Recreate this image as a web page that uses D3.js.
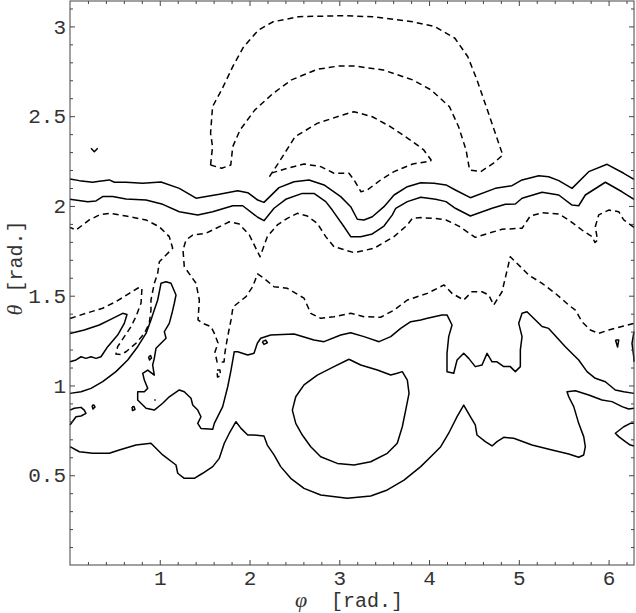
<!DOCTYPE html>
<html><head><meta charset="utf-8">
<script src="https://cdnjs.cloudflare.com/ajax/libs/d3/7.8.5/d3.min.js"></script>
<style>body{margin:0;background:#fff}svg{display:block}</style>
</head><body><svg id="c" width="636" height="613"></svg>
<script>
// ---- data: contour lines as [phi, theta] pairs (radians) ----
const xTickValues = [1, 2, 3, 4, 5, 6];
const yTickValues = [0.5, 1, 1.5, 2, 2.5, 3];

const solidTop = [[0,2.150],[0.104,2.141],[0.253,2.132],[0.326,2.137],[0.438,2.145],[0.494,2.132],[0.624,2.132],[0.810,2.126],[1.014,2.133],[1.218,2.098],[1.404,2.043],[1.663,2.065],[1.868,2.085],[1.980,2.074],[2.091,2.033],[2.161,2.020],[2.328,2.102],[2.496,2.135],[2.663,2.145],[2.830,2.117],[3.016,2.052],[3.127,1.996],[3.201,1.926],[3.275,1.922],[3.368,1.940],[3.498,1.996],[3.610,2.061],[3.758,2.107],[3.907,2.129],[4.055,2.126],[4.189,2.117],[4.293,2.089],[4.460,2.046],[4.738,2.098],[4.924,2.113],[5.036,2.145],[5.222,2.168],[5.333,2.163],[5.445,2.141],[5.593,2.098],[5.779,2.191],[5.983,2.232],[6.169,2.182],[6.283,2.148]];

const solidSecond = [[0,2.037],[0.197,2.024],[0.290,2.028],[0.364,2.052],[0.476,2.052],[0.624,2.039],[0.847,2.033],[1.033,2.009],[1.218,1.968],[1.423,1.950],[1.590,1.968],[1.813,2.001],[1.924,2.001],[2.091,1.937],[2.161,1.918],[2.273,1.987],[2.403,2.037],[2.588,2.070],[2.718,2.070],[2.849,2.024],[2.922,1.977],[3.053,1.884],[3.127,1.829],[3.239,1.829],[3.368,1.844],[3.498,1.888],[3.591,1.950],[3.629,1.987],[3.758,2.024],[3.907,2.048],[4.074,2.037],[4.189,2.024],[4.293,1.987],[4.460,1.944],[4.702,1.987],[4.850,2.009],[4.961,2.011],[5.036,2.043],[5.259,2.076],[5.445,2.061],[5.593,2.005],[5.667,2.001],[5.741,2.061],[5.964,2.132],[6.150,2.079],[6.283,2.037]];

const solidLeftTongue = [[0,1.290],[0.159,1.309],[0.326,1.337],[0.476,1.374],[0.587,1.402],[0.635,1.395],[0.605,1.346],[0.531,1.281],[0.420,1.216],[0.345,1.160],[0.290,1.151],[0.234,1.160],[0.178,1.151],[0.123,1.160],[0.067,1.142],[0,1.132]];

const solidRightEdgeArc = [[6.283,1.300],[6.261,1.235],[6.280,1.160],[6.283,1.132]];

const solidMiddle = [[0,0.956],[0.123,0.965],[0.234,0.984],[0.364,1.021],[0.512,1.077],[0.643,1.142],[0.754,1.216],[0.847,1.290],[0.902,1.365],[0.939,1.420],[0.977,1.476],[1.014,1.569],[1.070,1.578],[1.125,1.569],[1.181,1.504],[1.162,1.458],[1.136,1.402],[1.106,1.346],[1.051,1.300],[1.070,1.263],[1.014,1.235],[0.958,1.207],[0.939,1.151],[0.921,1.114],[0.939,1.058],[0.866,1.086],[0.810,1.068],[0.828,1.030],[0.866,0.984],[0.828,0.965],[0.754,0.965],[0.754,0.919],[0.847,0.873],[0.939,0.863],[1.033,0.901],[1.106,0.937],[1.218,0.975],[1.273,0.965],[1.348,0.929],[1.367,0.891],[1.423,0.863],[1.459,0.826],[1.423,0.789],[1.459,0.761],[1.590,0.756],[1.608,0.789],[1.701,0.882],[1.757,0.993],[1.794,1.086],[1.830,1.188],[1.868,1.188],[1.980,1.170],[2.050,1.179],[2.087,1.235],[2.125,1.263],[2.236,1.281],[2.496,1.287],[2.718,1.253],[2.830,1.244],[3.016,1.281],[3.127,1.294],[3.275,1.272],[3.443,1.244],[3.573,1.272],[3.684,1.318],[3.796,1.355],[3.907,1.365],[3.981,1.374],[4.144,1.393],[4.200,1.393],[4.256,1.337],[4.219,1.272],[4.200,1.179],[4.200,1.077],[4.275,1.068],[4.312,1.142],[4.386,1.179],[4.442,1.151],[4.515,1.105],[4.590,1.114],[4.646,1.179],[4.702,1.132],[4.757,1.132],[4.832,1.105],[4.905,1.105],[4.961,1.077],[5.017,1.105],[5.017,1.198],[5.036,1.272],[4.999,1.346],[5.036,1.402],[5.091,1.411],[5.259,1.328],[5.333,1.318],[5.518,1.216],[5.667,1.142],[5.760,1.077],[5.852,1.040],[5.964,1.021],[6.075,0.975],[6.169,0.965],[6.283,0.956]];

const solidLower = [[0,0.659],[0.104,0.631],[0.253,0.622],[0.438,0.622],[0.549,0.641],[0.735,0.668],[0.902,0.678],[1.033,0.613],[1.181,0.557],[1.200,0.511],[1.273,0.483],[1.385,0.483],[1.478,0.511],[1.590,0.548],[1.663,0.594],[1.719,0.678],[1.775,0.734],[1.849,0.798],[1.905,0.761],[1.980,0.724],[2.050,0.724],[2.161,0.719],[2.198,0.668],[2.273,0.613],[2.347,0.548],[2.459,0.483],[2.607,0.427],[2.793,0.390],[3.089,0.372],[3.350,0.384],[3.535,0.418],[3.721,0.473],[3.907,0.548],[4.019,0.603],[4.130,0.659],[4.219,0.734],[4.312,0.826],[4.386,0.891],[4.460,0.826],[4.515,0.780],[4.534,0.724],[4.627,0.687],[4.702,0.663],[4.757,0.687],[4.832,0.711],[4.943,0.706],[5.147,0.668],[5.370,0.641],[5.556,0.618],[5.667,0.600],[5.723,0.613],[5.741,0.659],[5.723,0.715],[5.667,0.789],[5.612,0.882],[5.556,0.937],[5.537,0.965],[5.630,0.971],[5.779,0.947],[5.927,0.919],[6.038,0.910],[6.150,0.882],[6.224,0.869],[6.283,0.873]];

const solidLeftLobe = [[0,0.863],[0.048,0.873],[0.123,0.878],[0.159,0.863],[0.178,0.845],[0.123,0.830],[0.067,0.826],[0,0.780]];

const solidRightLobe = [[6.283,0.789],[6.242,0.789],[6.169,0.770],[6.075,0.734],[6.113,0.715],[6.187,0.687],[6.242,0.668],[6.283,0.663]];

const solidTinyV = [[0.234,2.321],[0.271,2.302],[0.309,2.321]];

const solidRing = [[3.108,1.146],[2.941,1.105],[2.755,1.058],[2.607,1.003],[2.515,0.937],[2.477,0.863],[2.515,0.789],[2.588,0.724],[2.682,0.659],[2.793,0.603],[2.978,0.566],[3.164,0.557],[3.350,0.575],[3.535,0.622],[3.646,0.678],[3.702,0.770],[3.740,0.863],[3.777,0.956],[3.758,1.030],[3.702,1.077],[3.646,1.068],[3.573,1.058],[3.424,1.086],[3.239,1.114]];

const solidSpeckA = [[2.142,1.244],[2.180,1.253],[2.198,1.238],[2.161,1.229]];
const solidSpeckB = [[0.875,1.159],[0.897,1.167],[0.908,1.153],[0.886,1.142]];
const solidSpeckC = [[0.245,0.888],[0.267,0.891],[0.279,0.880],[0.256,0.869]];
const solidSpeckD = [[0.691,0.880],[0.713,0.883],[0.724,0.866],[0.696,0.861]];
const solidSpeckE = [[0.941,0.922],[0.953,0.916]];
const solidSpeckF = [[6.077,1.253],[6.113,1.253],[6.100,1.214]];

const dashedLong = [[6.283,1.881],[6.169,1.922],[6.113,1.968],[6.002,1.977],[5.890,1.950],[5.852,1.884],[5.877,1.810],[5.849,1.796],[5.816,1.829],[5.704,1.866],[5.556,1.922],[5.445,1.955],[5.259,1.962],[5.128,1.944],[5.036,1.876],[4.813,1.870],[4.665,1.848],[4.515,1.825],[4.331,1.888],[4.189,1.922],[4.055,1.931],[3.907,1.935],[3.814,1.931],[3.758,1.894],[3.610,1.829],[3.387,1.764],[3.164,1.740],[2.941,1.773],[2.849,1.829],[2.755,1.903],[2.644,1.944],[2.532,1.959],[2.421,1.931],[2.310,1.894],[2.198,1.829],[2.117,1.717],[1.998,1.838],[1.886,1.899],[1.775,1.912],[1.515,1.848],[1.367,1.838],[1.292,1.810],[1.259,1.755],[1.273,1.662],[1.404,1.569],[1.441,1.476],[1.426,1.365],[1.478,1.346],[1.571,1.328],[1.608,1.290],[1.649,1.237],[1.615,1.186],[1.638,1.131],[1.716,1.131],[1.727,1.186],[1.744,1.237],[1.771,1.309],[1.794,1.365],[1.816,1.437],[1.961,1.495],[2.035,1.550],[2.089,1.621],[2.161,1.597],[2.273,1.550],[2.421,1.541],[2.607,1.486],[2.682,1.402],[2.793,1.374],[2.941,1.383],[3.127,1.402],[3.275,1.383],[3.461,1.380],[3.610,1.420],[3.758,1.476],[3.981,1.513],[4.167,1.560],[4.256,1.513],[4.386,1.476],[4.479,1.522],[4.590,1.522],[4.665,1.504],[4.720,1.448],[4.813,1.522],[4.905,1.717],[5.017,1.662],[5.110,1.615],[5.259,1.569],[5.407,1.513],[5.556,1.448],[5.630,1.420],[5.704,1.355],[5.797,1.309],[5.890,1.290],[6.002,1.309],[6.169,1.331],[6.283,1.346]];

const dashedLeft = [[0,1.373],[0.178,1.402],[0.364,1.430],[0.512,1.467],[0.661,1.513],[0.758,1.543],[0.802,1.543],[0.791,1.458],[0.735,1.384],[0.680,1.328],[0.605,1.272],[0.531,1.216],[0.512,1.175],[0.568,1.173],[0.624,1.188],[0.735,1.235],[0.828,1.290],[0.883,1.346],[0.902,1.420],[0.902,1.476],[0.939,1.569],[0.977,1.625],[0.995,1.689],[1.070,1.727],[1.144,1.764],[1.106,1.829],[0.995,1.884],[0.847,1.922],[0.624,1.944],[0.438,1.959],[0.326,1.950],[0.215,1.922],[0.067,1.866],[0,1.881]];

const dashedOuterArch = [[1.566,2.228],[1.588,2.330],[1.566,2.405],[1.588,2.553],[1.689,2.646],[1.813,2.776],[1.935,2.887],[2.099,2.980],[2.263,3.026],[2.549,3.054],[3.040,3.060],[3.368,3.054],[3.818,3.026],[4.063,2.999],[4.288,2.934],[4.432,2.831],[4.534,2.702],[4.637,2.553],[4.738,2.405],[4.821,2.284],[4.718,2.238],[4.575,2.191],[4.452,2.200],[4.412,2.312],[4.329,2.441],[4.227,2.553],[4.023,2.646],[3.818,2.702],[3.491,2.757],[3.163,2.780],[2.999,2.780],[2.754,2.761],[2.467,2.702],[2.263,2.627],[2.058,2.534],[1.894,2.423],[1.813,2.330],[1.791,2.228],[1.689,2.210]];

const dashedInnerArch = [[2.222,2.163],[2.344,2.256],[2.508,2.386],[2.754,2.460],[3.040,2.507],[3.163,2.525],[3.368,2.497],[3.572,2.441],[3.818,2.358],[3.941,2.312],[4.023,2.256],[4.016,2.250],[3.818,2.234],[3.610,2.191],[3.461,2.145],[3.312,2.089],[3.242,2.079],[3.164,2.145],[3.108,2.182],[2.941,2.182],[2.793,2.219],[2.607,2.234],[2.421,2.210],[2.236,2.182]];

const dashedSpeck = [[1.638,1.086],[1.671,1.086],[1.677,1.053],[1.643,1.047]];

const solidOpen = [solidTop, solidSecond, solidLeftTongue, solidRightEdgeArc, solidMiddle, solidLower, solidLeftLobe, solidRightLobe, solidTinyV, solidSpeckE];
const solidClosed = [solidRing, solidSpeckA, solidSpeckB, solidSpeckC, solidSpeckD, solidSpeckF];
const dashedOpen = [dashedLong, dashedLeft];
const dashedClosed = [dashedOuterArch, dashedInnerArch, dashedSpeck];

// ---- drawing ----
const svg = d3.select("#c");
const L = 70, R = 634, T = 1, B = 565;
const x = d3.scaleLinear().domain([0, 2 * Math.PI]).range([L, R]);
const y = d3.scaleLinear().domain([0, Math.PI]).range([B, T]);
const line = d3.line().x(d => x(d[0])).y(d => y(d[1]));
const closed = a => a.concat([a[0]]);

const g = svg.append("g").attr("fill", "none").attr("stroke", "#000").attr("stroke-width", 1.5).attr("stroke-linejoin", "round");
solidOpen.forEach(a => g.append("path").attr("d", line(a)));
solidClosed.forEach(a => g.append("path").attr("d", line(closed(a))));
dashedOpen.forEach(a => g.append("path").attr("d", line(a)).attr("stroke-dasharray", "6,4"));
dashedClosed.forEach(a => g.append("path").attr("d", line(closed(a))).attr("stroke-dasharray", "6,4"));

// axes
const font = "'Liberation Mono','Courier New',monospace";
const fs = 21;
const xMinor = d3.range(0.2, 6.3, 0.2).filter(v => Math.abs(v - Math.round(v)) > 1e-6);
const yMinor = d3.range(0.1, 3.15, 0.1).filter(v => Math.abs(v * 2 - Math.round(v * 2)) > 1e-6);

function styleAxis(sel) {
  sel.select(".domain").remove();
  sel.selectAll("line").attr("stroke", "#444");
  sel.selectAll("text").attr("font-family", font).attr("font-size", fs).attr("fill", "#333");
}
svg.append("g").attr("transform", `translate(0,${B})`).call(d3.axisBottom(x).tickValues(xTickValues).tickSize(-5).tickPadding(5).tickFormat(d3.format("d"))).call(styleAxis);
svg.append("g").attr("transform", `translate(0,${B})`).call(d3.axisBottom(x).tickValues(xMinor).tickSize(-3).tickFormat("")).call(styleAxis);
svg.append("g").attr("transform", `translate(0,${T})`).call(d3.axisTop(x).tickValues(xTickValues).tickSize(-5).tickFormat("")).call(styleAxis);
svg.append("g").attr("transform", `translate(0,${T})`).call(d3.axisTop(x).tickValues(xMinor).tickSize(-3).tickFormat("")).call(styleAxis);
svg.append("g").attr("transform", `translate(${L},0)`).call(d3.axisLeft(y).tickValues(yTickValues).tickSize(-5).tickPadding(4).tickFormat(d => String(d))).call(styleAxis);
svg.append("g").attr("transform", `translate(${L},0)`).call(d3.axisLeft(y).tickValues(yMinor).tickSize(-3).tickFormat("")).call(styleAxis);
svg.append("g").attr("transform", `translate(${R},0)`).call(d3.axisRight(y).tickValues(yTickValues).tickSize(-5).tickFormat("")).call(styleAxis);
svg.append("g").attr("transform", `translate(${R},0)`).call(d3.axisRight(y).tickValues(yMinor).tickSize(-3).tickFormat("")).call(styleAxis);

svg.append("rect").attr("x", L).attr("y", T).attr("width", R - L).attr("height", B - T)
  .attr("fill", "none").attr("stroke", "#444").attr("stroke-width", 1);

// axis titles
const xt = svg.append("text").attr("x", 349).attr("y", 607).attr("text-anchor", "middle")
  .attr("font-family", font).attr("font-size", 20).attr("fill", "#333").attr("xml:space", "preserve");
xt.append("tspan").attr("font-family", "'Liberation Serif','DejaVu Serif',serif").attr("font-style", "italic").attr("font-size", 22).text("φ");
xt.append("tspan").text("  [rad.]");

const yt = svg.append("text").attr("transform", `translate(22,268) rotate(-90)`).attr("text-anchor", "middle")
  .attr("font-family", font).attr("font-size", 20).attr("fill", "#333").attr("xml:space", "preserve");
yt.append("tspan").attr("font-family", "'Liberation Serif','DejaVu Serif',serif").attr("font-style", "italic").attr("font-size", 22).text("θ");
yt.append("tspan").text(" [rad.]");
</script></body></html>
